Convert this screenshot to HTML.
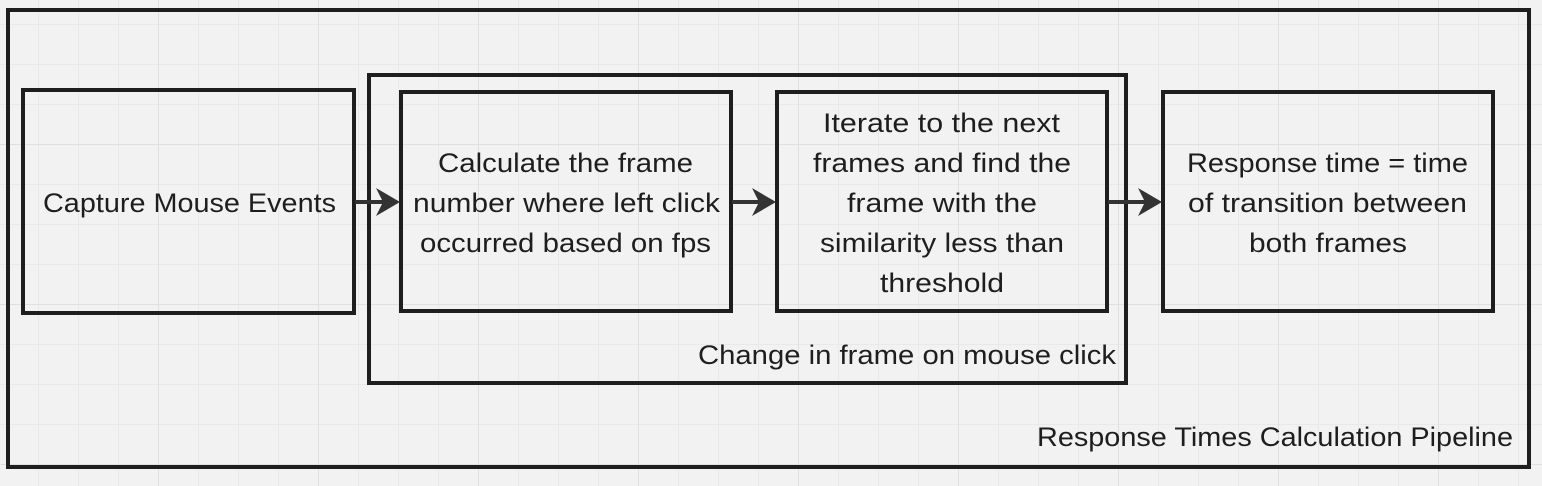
<!DOCTYPE html>
<html><head><meta charset="utf-8"><style>
html,body{margin:0;padding:0;width:1542px;height:486px;overflow:hidden;background:#f2f2f2}
svg{display:block}
text{font-family:"Liberation Sans",sans-serif;font-size:26.5px;fill:#1e1e1e}
</style></head><body>
<svg width="1542" height="486" viewBox="0 0 1542 486">
<defs>
<pattern id="minor" width="40" height="40" patternUnits="userSpaceOnUse" x="-1" y="-15">
<path d="M40 0V40M0 40H40" stroke="#e9e9e9" stroke-width="2" fill="none"/>
</pattern>
<pattern id="major" width="160" height="160" patternUnits="userSpaceOnUse" x="-1" y="-15">
<path d="M160 0V160M0 160H160" stroke="#e0e0e0" stroke-width="2" fill="none"/>
</pattern>
</defs>
<rect width="1542" height="486" fill="url(#minor)"/>
<rect width="1542" height="486" fill="url(#major)"/>
<g fill="none" stroke="#1e1e1e" stroke-width="4">
<rect x="8" y="10" width="1521" height="457"/>
<rect x="369" y="75" width="757" height="308"/>
<rect x="23" y="90" width="331" height="223"/>
<rect x="401" y="92" width="330" height="219"/>
<rect x="777" y="92" width="330" height="219"/>
<rect x="1163" y="92" width="330" height="219"/>
</g>
<g stroke="#333" stroke-width="4" fill="none">
<path d="M355 202H392"/>
<path d="M732 202H768"/>
<path d="M1108 202H1154"/>
</g>
<g fill="#333">
<path d="M400 202L376 188L383 202L376 216Z"/>
<path d="M776 202L752 188L759 202L752 216Z"/>
<path d="M1162 202L1138 188L1145 202L1138 216Z"/>
</g>
<g>
<text x="43" y="212" textLength="293" lengthAdjust="spacingAndGlyphs">Capture Mouse Events</text>
<text x="438" y="172" textLength="255" lengthAdjust="spacingAndGlyphs">Calculate the frame</text>
<text x="413" y="212" textLength="307" lengthAdjust="spacingAndGlyphs">number where left click</text>
<text x="420" y="252" textLength="291" lengthAdjust="spacingAndGlyphs">occurred based on fps</text>
<text x="823" y="132" textLength="237" lengthAdjust="spacingAndGlyphs">Iterate to the next</text>
<text x="813" y="172" textLength="258" lengthAdjust="spacingAndGlyphs">frames and find the</text>
<text x="847" y="212" textLength="190" lengthAdjust="spacingAndGlyphs">frame with the</text>
<text x="820" y="252" textLength="244" lengthAdjust="spacingAndGlyphs">similarity less than</text>
<text x="880" y="292" textLength="124" lengthAdjust="spacingAndGlyphs">threshold</text>
<text x="1187" y="172" textLength="281" lengthAdjust="spacingAndGlyphs">Response time = time</text>
<text x="1188" y="212" textLength="279" lengthAdjust="spacingAndGlyphs">of transition between</text>
<text x="1249" y="252" textLength="158" lengthAdjust="spacingAndGlyphs">both frames</text>
<text x="698" y="364" textLength="418" lengthAdjust="spacingAndGlyphs">Change in frame on mouse click</text>
<text x="1037" y="446" textLength="476" lengthAdjust="spacingAndGlyphs">Response Times Calculation Pipeline</text>
</g>
</svg>
</body></html>
